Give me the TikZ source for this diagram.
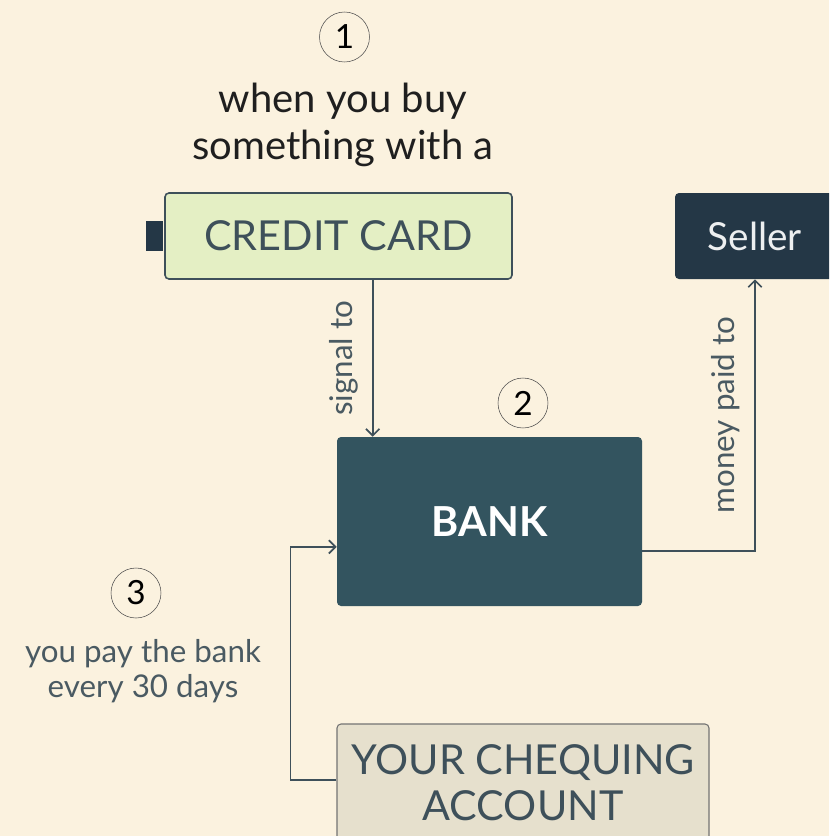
\documentclass[tikz,border=0pt]{standalone}
\usepackage{fontspec}
\setmainfont{Lato}
\usetikzlibrary{arrows.meta,positioning}
\definecolor{cream}{RGB}{251,242,223}
\definecolor{cardgreen}{RGB}{228,239,196}
\definecolor{bankteal}{RGB}{51,84,95}
\definecolor{sellernavy}{RGB}{36,55,70}
\definecolor{chequebeige}{RGB}{230,224,205}
\definecolor{inkline}{RGB}{62,80,90}
\definecolor{softink}{RGB}{74,90,98}

\begin{document}
\begin{tikzpicture}[x=0.75pt,y=-0.75pt,>={Straight Barb[length=5pt,width=10pt]},
  box/.style={rounded corners=3pt,inner sep=0pt,align=center,font=\fontsize{31}{34.5}\selectfont},
  stepnum/.style={circle,draw=black!70,thin,minimum size=37.5pt,inner sep=0pt,font=\fontsize{25}{25}\selectfont},
  caption/.style={align=center,text=softink,font=\fontsize{23.5}{26}\selectfont},
  flowlabel/.style={inner sep=0pt,outer sep=11pt,text=softink,font=\fontsize{23.5}{24}\selectfont},
  flow/.style={->,draw=inkline,line width=1.3pt}]
\fill[cream] (0,0) rectangle (829,836);
\clip (0,0) rectangle (829,836);
% step 1
\node[stepnum] (one) at (344.5,37) {1};
\node[align=center,text=black!88,font=\fontsize{30}{35}\selectfont] (buy) at (343,125) {when you buy\\something with a};
\node[box,draw=inkline,line width=1.2pt,fill=cardgreen,text=inkline,
  minimum width=260.25pt,minimum height=64.5pt] (card) at (338.5,236) {CREDIT CARD};
\node[fill=sellernavy,inner sep=0pt,minimum width=12.5pt,minimum height=22.5pt,
  left=0.6pt of card] (cardtab) {};
\node[box,fill=sellernavy,text=white!92!sellernavy,font=\fontsize{29}{30}\selectfont,
  minimum width=120pt,minimum height=64.5pt] (seller) at (755,236) {Seller};
% step 2
\node[box,fill=bankteal,text=white,font=\fontsize{31}{32}\selectfont\bfseries,
  minimum width=228.75pt,minimum height=126.75pt] (bank) at (489.5,521.5) {BANK};
\node[stepnum] (two) at (523,403) {2};
% step 3
\node[stepnum] (three) at (136,593) {3};
\node[caption] (pay) at (143,671) {you pay the bank\\every 30 days};
\node[box,draw=black!55,line width=0.8pt,fill=chequebeige,text=inkline,
  minimum width=279pt,minimum height=88.5pt] (cheq) at (523,783) {YOUR CHEQUING\\ACCOUNT};
% connectors
\draw[flow] ([xshift=27pt]bank.north west |- card.south) --
  node[midway,rotate=90,anchor=south,flowlabel] {signal to}
  ([xshift=27pt]bank.north west);
\draw[flow] ([yshift=-22pt]bank.east) -| node[pos=0.75,sloped,anchor=south,flowlabel] {money paid to}
  (seller.south);
\draw[flow] ([yshift=2pt]cheq.west) -- ++(-46,0) |- ([yshift=-19pt]bank.west);
\end{tikzpicture}
\end{document}
